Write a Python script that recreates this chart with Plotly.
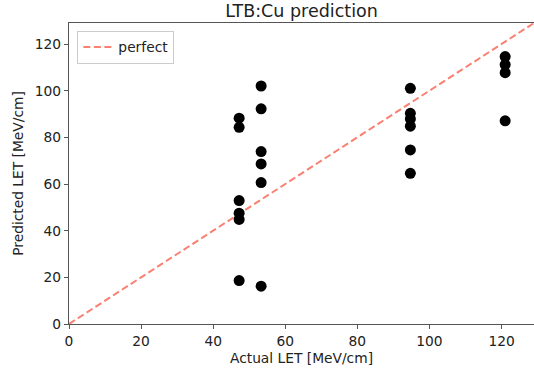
import plotly.graph_objects as go

actual = [47.2, 47.2, 47.2, 47.2, 47.2, 47.2,
          53.3, 53.3, 53.3, 53.3, 53.3, 53.3,
          94.7, 94.7, 94.7, 94.7, 94.7, 94.7,
          121.0, 121.0, 121.0, 121.0]
predicted = [88.2, 84.3, 52.9, 47.5, 44.8, 18.6,
             102.0, 92.2, 73.9, 68.6, 60.6, 16.2,
             101.0, 90.3, 87.9, 84.8, 74.6, 64.6,
             114.6, 111.2, 107.7, 87.1]
perfect_x = [0, 129]
perfect_y = [0, 129]
ticks = [0, 20, 40, 60, 80, 100, 120]

FONT = "DejaVu Sans"
FS = 13.8
fig = go.Figure()
fig.add_trace(go.Scatter(x=perfect_x, y=perfect_y, mode="lines", name="perfect",
                         line=dict(color="#FA8072", width=2, dash="7px,3.5px")))
fig.add_trace(go.Scatter(x=actual, y=predicted, mode="markers", showlegend=False,
                         marker=dict(color="black", size=11, line=dict(width=0))))

axis_common = dict(range=[0, 129], tickvals=ticks, showgrid=False, zeroline=False,
                   showline=True, linecolor="#555555", linewidth=1.2,
                   ticks="outside", ticklen=4, tickwidth=1, tickcolor="#555555",
                   tickfont=dict(family=FONT, size=FS, color="#222222"))
fig.update_xaxes(**axis_common, mirror=True,
                 title=dict(text="Actual LET [MeV/cm]", font=dict(family=FONT, size=FS, color="#222222"), standoff=5))
fig.update_yaxes(**axis_common,
                 title=dict(text="Predicted LET [MeV/cm]", font=dict(family=FONT, size=FS, color="#222222"), standoff=7))

fig.update_layout(
    width=534, height=375,
    margin=dict(l=69, r=0, t=23, b=51),
    paper_bgcolor="white", plot_bgcolor="white",
    title=dict(text="LTB:Cu prediction", x=0.5, xanchor="center", xref="paper",
               y=0.972, yanchor="middle", font=dict(family=FONT, size=17.5, color="#222222")),
    legend=dict(x=0.018, y=0.975, xanchor="left", yanchor="top",
                bgcolor="white", bordercolor="#cccccc", borderwidth=1,
                font=dict(family=FONT, size=FS, color="#222222"),
                itemwidth=30),
    showlegend=True,
)

fig.write_html("out.html")
